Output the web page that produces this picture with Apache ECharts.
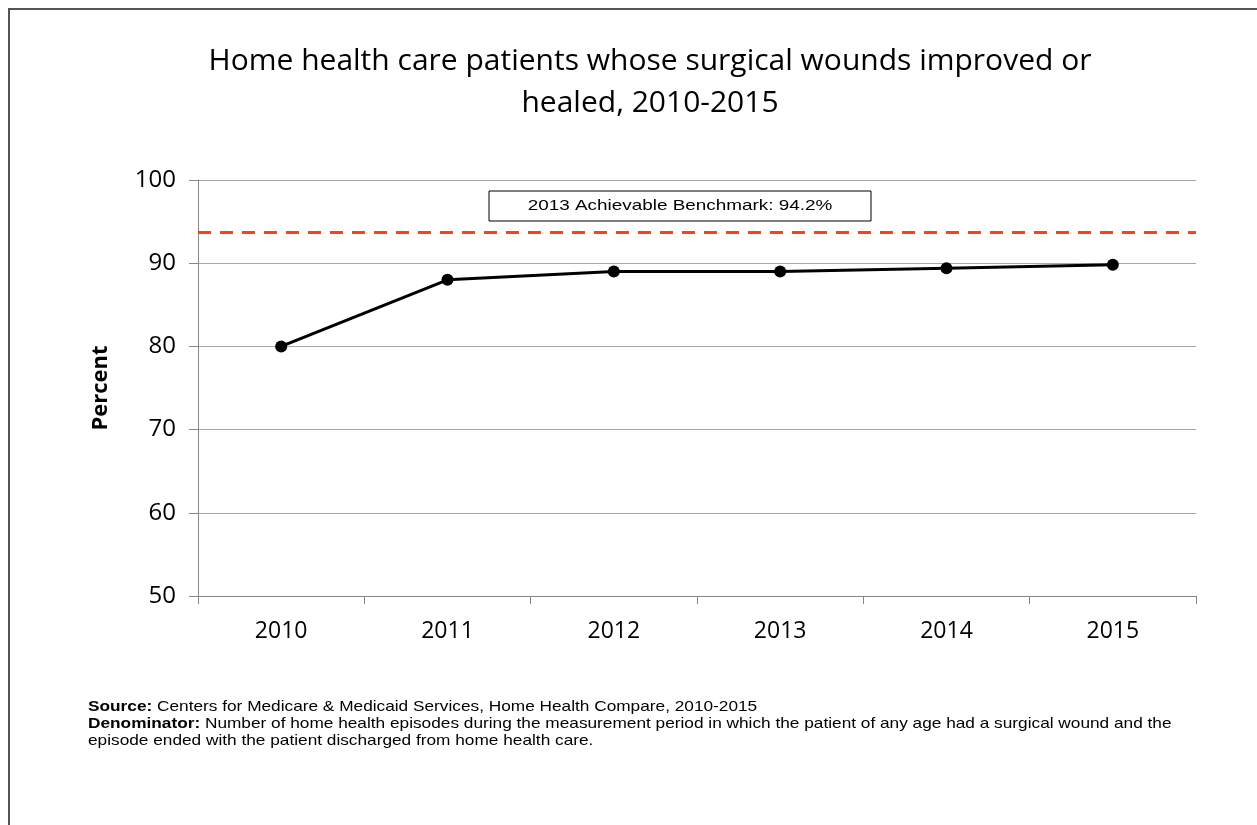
<!DOCTYPE html>
<html>
<head>
<meta charset="utf-8">
<script src="https://cdn.jsdelivr.net/npm/echarts@6/dist/echarts.min.js"></script>
<style>
  html, body { margin: 0; padding: 0; background: #fff; }
  #chart { width: 1257px; height: 825px; }
</style>
</head>
<body>
<div id="chart"></div>
<script>
// data
const years = ["2010", "2011", "2012", "2013", "2014", "2015"];
const percent = [80.0, 88.0, 89.0, 89.0, 89.4, 89.8];
const benchmark = 93.7; // where the dashed line sits
const benchmarkLabel = "2013 Achievable Benchmark: 94.2%";
const yTicks = { min: 50, max: 100, interval: 10 };

const chart = echarts.init(document.getElementById("chart"));

const option = {
  animation: false,
  title: {
    text: "Home health care patients whose surgical wounds improved or\nhealed, 2010-2015",
    left: 645,
    top: 35,
    textAlign: "center",
    textStyle: {
      fontFamily: "Open Sans",
      fontWeight: "normal",
      fontSize: 30,
      lineHeight: 42,
      color: "#000",
    },
  },
  grid: { left: 198, right: 61, top: 180, bottom: 229 },
  xAxis: {
    type: "category",
    data: years,
    boundaryGap: true,
    axisLine: { lineStyle: { color: "#888", width: 1 } },
    axisTick: { show: true, length: 8, lineStyle: { color: "#888" } },
    axisLabel: { fontFamily: "Open Sans", fontSize: 23, color: "#000", margin: 24 },
  },
  yAxis: {
    type: "value",
    min: yTicks.min,
    max: yTicks.max,
    interval: yTicks.interval,
    name: "Percent",
    nameLocation: "middle",
    nameGap: 86,
    nameTextStyle: { fontFamily: "Open Sans", fontWeight: "bold", fontSize: 22, color: "#000" },
    axisLine: { show: true, lineStyle: { color: "#888", width: 1 } },
    axisTick: { show: true, length: 9, lineStyle: { color: "#888" } },
    axisLabel: { fontFamily: "Open Sans", fontSize: 24, color: "#000", margin: 22 },
    splitLine: { lineStyle: { color: "#a6a6a6", width: 1 } },
  },
  series: [
    {
      type: "line",
      data: percent,
      symbol: "circle",
      symbolSize: 12,
      lineStyle: { color: "#000", width: 3 },
      itemStyle: { color: "#000" },
      markLine: {
        silent: true,
        symbol: "none",
        label: { show: false },
        lineStyle: { color: "#ff4010", width: 3, type: [13, 9] },
        data: [{ yAxis: benchmark }],
      },
    },
  ],
  graphic: [
    {
      type: "rect",
      shape: { x: 9, y: 9, width: 1260, height: 830 },
      style: { fill: "none", stroke: "#555", lineWidth: 2 },
      silent: true,
    },
    {
      type: "rect",
      shape: { x: 489, y: 191, width: 382, height: 30 },
      style: { fill: "#fff", stroke: "#000", lineWidth: 1 },
      z: 10,
    },
    {
      type: "text",
      x: 680,
      y: 206,
      z: 11,
      scaleX: 1.26,
      style: {
        text: benchmarkLabel,
        fontFamily: "Liberation Sans",
        fontSize: 15,
        fill: "#000",
        align: "center",
        verticalAlign: "middle",
      },
    },
    {
      type: "text",
      x: 88,
      y: 698,
      scaleX: 1.15,
      style: {
        text: "{b|Source:} Centers for Medicare & Medicaid Services, Home Health Compare, 2010-2015\n{b|Denominator:} Number of home health episodes during the measurement period in which the patient of any age had a surgical wound and the\nepisode ended with the patient discharged from home health care.",
        fontFamily: "Liberation Sans",
        fontSize: 15,
        lineHeight: 17,
        fill: "#000",
        rich: {
          b: { fontFamily: "Liberation Sans", fontSize: 15, fontWeight: "bold", fill: "#000" },
        },
      },
    },
  ],
};

chart.setOption(option);
</script>
</body>
</html>
